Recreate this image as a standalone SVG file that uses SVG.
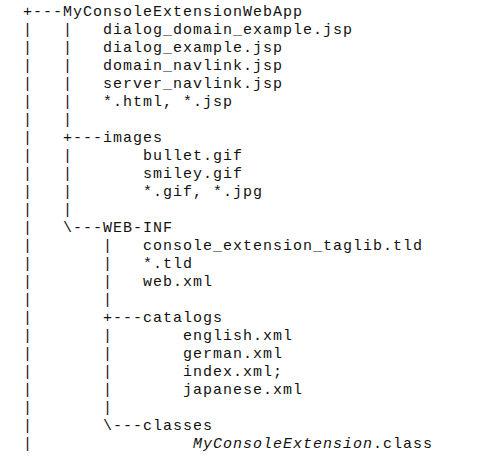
<svg xmlns="http://www.w3.org/2000/svg" width="500" height="470" viewBox="0 0 500 470">
<style>
text{font-family:"Liberation Mono","Courier New",monospace;font-size:15px;letter-spacing:1px;fill:#111;white-space:pre}
.it{font-style:italic}
</style>
<rect width="500" height="470" fill="#fff"/>
<g id="connectors">
<text xml:space="preserve" x="23" y="15.5">+---</text>
<text xml:space="preserve" x="23" y="33.5">|   |</text>
<text xml:space="preserve" x="23" y="51.5">|   |</text>
<text xml:space="preserve" x="23" y="69.5">|   |</text>
<text xml:space="preserve" x="23" y="87.5">|   |</text>
<text xml:space="preserve" x="23" y="105.5">|   |</text>
<text xml:space="preserve" x="23" y="123.5">|   |</text>
<text xml:space="preserve" x="23" y="141.5">|   +---</text>
<text xml:space="preserve" x="23" y="159.5">|   |</text>
<text xml:space="preserve" x="23" y="177.5">|   |</text>
<text xml:space="preserve" x="23" y="195.5">|   |</text>
<text xml:space="preserve" x="23" y="213.5">|   |</text>
<text xml:space="preserve" x="23" y="231.5">|   \---</text>
<text xml:space="preserve" x="23" y="249.5">|       |</text>
<text xml:space="preserve" x="23" y="267.5">|       |</text>
<text xml:space="preserve" x="23" y="285.5">|       |</text>
<text xml:space="preserve" x="23" y="303.5">|       |</text>
<text xml:space="preserve" x="23" y="321.5">|       +---</text>
<text xml:space="preserve" x="23" y="339.5">|       |</text>
<text xml:space="preserve" x="23" y="357.5">|       |</text>
<text xml:space="preserve" x="23" y="375.5">|       |</text>
<text xml:space="preserve" x="23" y="393.5">|       |</text>
<text xml:space="preserve" x="23" y="411.5">|       |</text>
<text xml:space="preserve" x="23" y="429.5">|       \---</text>
<text xml:space="preserve" x="23" y="447.5">|</text>
</g>
<g id="webapp"><text x="63" y="15.5">MyConsoleExtensionWebApp</text></g>
<g id="webapp-files">
<text x="103" y="33.5">dialog_domain_example.jsp</text>
<text x="103" y="51.5">dialog_example.jsp</text>
<text x="103" y="69.5">domain_navlink.jsp</text>
<text x="103" y="87.5">server_navlink.jsp</text>
<text x="103" y="105.5">*.html, *.jsp</text>
</g>
<g id="images"><text x="103" y="141.5">images</text></g>
<g id="images-files">
<text x="143" y="159.5">bullet.gif</text>
<text x="143" y="177.5">smiley.gif</text>
<text x="143" y="195.5">*.gif, *.jpg</text>
</g>
<g id="web-inf"><text x="103" y="231.5">WEB-INF</text></g>
<g id="web-inf-files">
<text x="143" y="249.5">console_extension_taglib.tld</text>
<text x="143" y="267.5">*.tld</text>
<text x="143" y="285.5">web.xml</text>
</g>
<g id="catalogs"><text x="143" y="321.5">catalogs</text></g>
<g id="catalogs-files">
<text x="183" y="339.5">english.xml</text>
<text x="183" y="357.5">german.xml</text>
<text x="183" y="375.5">index.xml;</text>
<text x="183" y="393.5">japanese.xml</text>
</g>
<g id="classes"><text x="143" y="429.5">classes</text></g>
<g id="classes-files">
<text x="193" y="447.5"><tspan class="it">MyConsoleExtension</tspan>.class</text>
</g>
</svg>
